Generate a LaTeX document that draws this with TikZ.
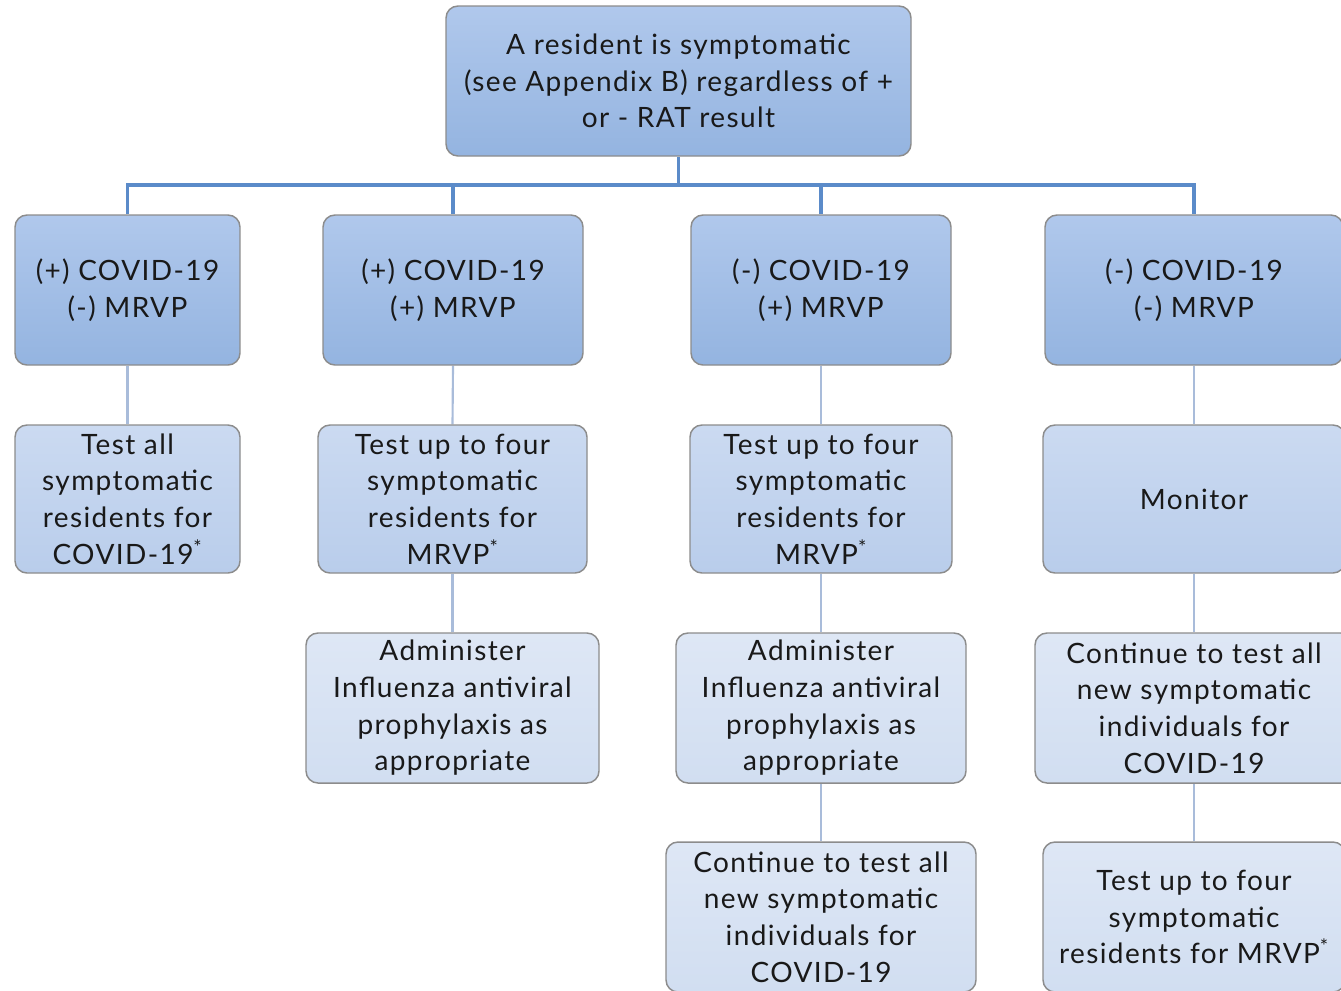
\documentclass[tikz,border=0pt]{standalone}
\usepackage{fontspec}
\setmainfont{Lato}[LetterSpace=5]
\usetikzlibrary{backgrounds}
\definecolor{bordergray}{HTML}{8C8C8C}
\definecolor{treeblue}{HTML}{5B8BC9}
\definecolor{sublink}{HTML}{A9BCDA}
\definecolor{dtop}{HTML}{B0C8EC}
\definecolor{dbot}{HTML}{94B4E0}
\definecolor{mtop}{HTML}{CBDAF1}
\definecolor{mbot}{HTML}{B9CDEB}
\definecolor{ltop}{HTML}{DEE7F5}
\definecolor{lbot}{HTML}{D1DEF1}
\tikzset{
  basebox/.style={draw=bordergray, line width=1.1pt, rounded corners=9pt,
    inner sep=0pt, align=center, font=\fontsize{21}{27.5}\selectfont,
    text=black!90},
  darkbox/.style={basebox, top color=dtop, bottom color=dbot},
  midbox/.style={basebox, top color=mtop, bottom color=mbot},
  lightbox/.style={basebox, top color=ltop, bottom color=lbot},
  tree/.style={draw=treeblue, line width=2.3pt},
  sub/.style={draw=sublink, line width=1.6pt},
}
\begin{document}
\begin{tikzpicture}[x=0.75pt,y=-0.75pt]
\useasboundingbox (0,0) rectangle (1341,990);
% top
\node[darkbox, minimum width=348.75pt, minimum height=112.5pt] (top) at (678.5,81)
  {A resident is symptomatic\\(see Appendix B) regardless of +\\or - RAT result};
% level 2
\node[darkbox, minimum width=168.75pt, minimum height=112.5pt] (a2) at (127.5,290) {(+) COVID-19\\(-) MRVP};
\node[darkbox, minimum width=195pt, minimum height=112.5pt] (b2) at (453,290) {(+) COVID-19\\(+) MRVP};
\node[darkbox, minimum width=195pt, minimum height=112.5pt] (c2) at (821,290) {(-) COVID-19\\(+) MRVP};
\node[darkbox, minimum width=223.5pt, minimum height=112.5pt] (d2) at (1194,290) {(-) COVID-19\\(-) MRVP};
% level 3
\node[midbox, minimum width=168.75pt, minimum height=111pt] (a3) at (127.5,499) {Test all\\symptomatic\\residents for\\COVID-19\textsuperscript{*}};
\node[midbox, minimum width=201.75pt, minimum height=111pt] (b3) at (452.5,499) {Test up to four\\symptomatic\\residents for\\MRVP\textsuperscript{*}};
\node[midbox, minimum width=196.5pt, minimum height=111pt] (c3) at (821,499) {Test up to four\\symptomatic\\residents for\\MRVP\textsuperscript{*}};
\node[midbox, minimum width=226.5pt, minimum height=111pt] (d3) at (1194,499) {Monitor};
% level 4
\node[lightbox, minimum width=219.75pt, minimum height=112.5pt] (b4) at (452.5,708) {Administer\\Influenza antiviral\\prophylaxis as\\appropriate};
\node[lightbox, minimum width=217.5pt, minimum height=112.5pt] (c4) at (821,708) {Administer\\Influenza antiviral\\prophylaxis as\\appropriate};
\node[lightbox, minimum width=238.5pt, minimum height=112.5pt] (d4) at (1194,708) {Continue to test all\\new symptomatic\\individuals for\\COVID-19};
% level 5
\node[lightbox, minimum width=232.5pt, minimum height=112.5pt] (c5) at (821,917) {Continue to test all\\new symptomatic\\individuals for\\COVID-19};
\node[lightbox, minimum width=226.5pt, minimum height=112.5pt] (d5) at (1194,917) {Test up to four\\symptomatic\\residents for MRVP\textsuperscript{*}};
% connectors
\coordinate (bus) at (678.5,185);
\begin{scope}[on background layer]
\draw[tree] (top.south) -- (bus);
\draw[tree] (a2.north) |- (bus) -| (d2.north);
\draw[tree] (b2.north) -- (b2.north |- bus);
\draw[tree] (c2.north) -- (c2.north |- bus);
\draw[sub] (a2.south) -- (a3.north);
\draw[sub] (b2.south) -- (b3.north);
\draw[sub] (c2.south) -- (c3.north);
\draw[sub] (d2.south) -- (d3.north);
\draw[sub] (b3.south) -- (b4.north);
\draw[sub] (c3.south) -- (c4.north);
\draw[sub] (d3.south) -- (d4.north);
\draw[sub] (c4.south) -- (c5.north);
\draw[sub] (d4.south) -- (d5.north);
\end{scope}
\end{tikzpicture}
\end{document}
